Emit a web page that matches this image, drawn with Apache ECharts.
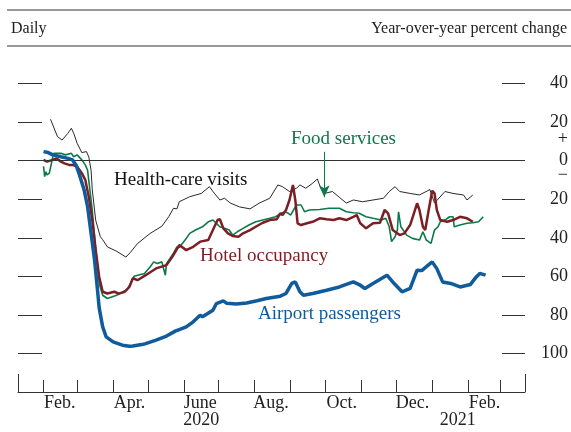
<!DOCTYPE html>
<html>
<head>
<meta charset="utf-8">
<script src="https://cdn.jsdelivr.net/npm/echarts@6/dist/echarts.min.js"></script>
<style>
  html, body { margin: 0; padding: 0; background: #fff; }
  #chart { width: 571px; height: 432px; }
</style>
</head>
<body>
<div id="chart"></div>
<script>
// values (percent change, year over year)
const healthCareVisits = [
  ['2020-02-07', 21.5], ['2020-02-13', 12.5], ['2020-02-17', 10.7], ['2020-02-22', 14.2],
  ['2020-02-25', 16.8], ['2020-02-27', 14.2], ['2020-03-01', 9], ['2020-03-05', 4.2],
  ['2020-03-09', 4.7], ['2020-03-11', 2], ['2020-03-13', -5], ['2020-03-14', -15],
  ['2020-03-17', -31], ['2020-03-21', -39.5], ['2020-03-23', -41], ['2020-03-27', -44.7],
  ['2020-04-04', -47], ['2020-04-12', -50], ['2020-04-16', -47.5], ['2020-04-22', -43],
  ['2020-05-03', -37.7], ['2020-05-13', -34], ['2020-05-19', -29], ['2020-05-23', -24.7],
  ['2020-05-26', -25], ['2020-05-28', -21.3], ['2020-06-06', -18.7], ['2020-06-16', -17],
  ['2020-06-23', -13.5], ['2020-06-26', -16], ['2020-07-02', -20.4], ['2020-07-06', -19.5],
  ['2020-07-11', -22], ['2020-07-19', -24], ['2020-07-28', -25], ['2020-08-05', -22],
  ['2020-08-14', -19.5], ['2020-08-21', -12.6], ['2020-08-25', -13.5], ['2020-08-31', -16],
  ['2020-09-06', -14.3], ['2020-09-09', -12.6], ['2020-09-14', -14.3], ['2020-09-20', -11.7],
  ['2020-09-24', -9.5], ['2020-09-27', -14.3], ['2020-09-30', -17], ['2020-10-07', -16],
  ['2020-10-13', -19], ['2020-10-19', -22], ['2020-10-25', -20.4], ['2020-11-02', -21.3],
  ['2020-11-11', -20.4], ['2020-11-20', -19.5], ['2020-11-25', -16], ['2020-11-30', -13.5],
  ['2020-12-04', -16], ['2020-12-13', -17], ['2020-12-21', -17.8], ['2020-12-30', -15],
  ['2021-01-03', -22], ['2021-01-12', -16], ['2021-01-19', -17], ['2021-01-28', -17.8],
  ['2021-01-31', -20.4], ['2021-02-05', -17.8]
];

const foodServices = [
  ['2020-02-01', -3], ['2020-02-02', -8.3], ['2020-02-03', -5.7], ['2020-02-04', -7.4],
  ['2020-02-06', -6.5], ['2020-02-09', 2], ['2020-02-10', 3.8], ['2020-02-16', 3.8],
  ['2020-02-20', 3], ['2020-02-25', 3.8], ['2020-02-27', 2], ['2020-03-01', 3],
  ['2020-03-05', 0.4], ['2020-03-08', -2.2], ['2020-03-10', -5], ['2020-03-14', -25.6],
  ['2020-03-17', -46], ['2020-03-20', -63.7], ['2020-03-23', -69.8], ['2020-03-27', -71.5],
  ['2020-04-04', -69.8], ['2020-04-13', -67], ['2020-04-16', -63.7], ['2020-04-19', -60],
  ['2020-04-28', -58.5], ['2020-05-03', -55], ['2020-05-06', -52.5], ['2020-05-09', -53.3],
  ['2020-05-13', -52.5], ['2020-05-16', -59.4], ['2020-05-17', -53.3], ['2020-05-20', -50.7],
  ['2020-05-23', -48], ['2020-05-26', -44.7], ['2020-05-28', -45], ['2020-06-02', -41.2],
  ['2020-06-06', -37.7], ['2020-06-11', -36], ['2020-06-17', -34.3], ['2020-06-22', -31.7],
  ['2020-06-26', -30.8], ['2020-07-02', -34.3], ['2020-07-06', -35.1], ['2020-07-10', -36],
  ['2020-07-13', -38.6], ['2020-07-17', -36.9], ['2020-07-22', -35.1], ['2020-07-27', -33.4],
  ['2020-08-02', -31.7], ['2020-08-08', -30.8], ['2020-08-14', -29.9], ['2020-08-19', -29.1],
  ['2020-08-24', -27.3], ['2020-08-27', -26.5], ['2020-08-30', -27.3], ['2020-09-01', -28.2],
  ['2020-09-06', -23], ['2020-09-10', -23], ['2020-09-13', -26.5], ['2020-09-17', -25.6],
  ['2020-09-26', -25.3], ['2020-10-04', -24.7], ['2020-10-13', -24.7], ['2020-10-19', -26.5],
  ['2020-10-25', -27], ['2020-10-30', -27.3], ['2020-11-05', -29.1], ['2020-11-11', -29.9],
  ['2020-11-18', -30.8], ['2020-11-22', -29.9], ['2020-11-25', -34.3], ['2020-11-27', -42],
  ['2020-11-30', -39.5], ['2020-12-02', -36], ['2020-12-03', -26.5], ['2020-12-05', -34.3],
  ['2020-12-10', -38.6], ['2020-12-15', -40.3], ['2020-12-21', -41.2], ['2020-12-24', -36.9],
  ['2020-12-27', -41.2], ['2020-12-31', -42.9], ['2021-01-03', -36], ['2021-01-06', -34.3],
  ['2021-01-08', -31.7], ['2021-01-12', -30.8], ['2021-01-16', -29.1], ['2021-01-19', -29.1],
  ['2021-01-20', -34.3], ['2021-01-25', -33.4], ['2021-01-31', -32.5], ['2021-02-05', -32.2],
  ['2021-02-10', -31.7], ['2021-02-14', -29.1]
];

const hotelOccupancy = [
  ['2020-02-01', 0.4], ['2020-02-04', -0.5], ['2020-02-09', 0.4], ['2020-02-12', 1.2],
  ['2020-02-16', -0.5], ['2020-02-19', -1.4], ['2020-02-23', -2.2], ['2020-02-26', -2.2],
  ['2020-03-01', -3.1], ['2020-03-05', -6.5], ['2020-03-08', -10], ['2020-03-11', -18.7],
  ['2020-03-14', -30.8], ['2020-03-17', -46.4], ['2020-03-20', -60.3], ['2020-03-23', -68],
  ['2020-03-27', -68.9], ['2020-04-02', -68], ['2020-04-06', -69], ['2020-04-11', -68],
  ['2020-04-15', -65.5], ['2020-04-18', -61], ['2020-04-22', -62], ['2020-04-29', -59.4],
  ['2020-05-08', -55.9], ['2020-05-17', -54.2], ['2020-05-22', -49.9], ['2020-05-28', -43.8],
  ['2020-06-03', -46.4], ['2020-06-09', -44.7], ['2020-06-15', -42], ['2020-06-22', -41.2],
  ['2020-06-26', -36], ['2020-06-30', -30.8], ['2020-07-02', -30.4], ['2020-07-05', -35.1],
  ['2020-07-09', -37.7], ['2020-07-13', -39.1], ['2020-07-18', -39.5], ['2020-07-22', -37.7],
  ['2020-07-28', -36], ['2020-08-03', -33.9], ['2020-08-08', -32.2], ['2020-08-14', -30.8],
  ['2020-08-20', -30.4], ['2020-08-23', -27.3], ['2020-08-25', -28.2], ['2020-08-28', -25.6],
  ['2020-08-31', -20.4], ['2020-09-03', -12.6], ['2020-09-05', -20.4], ['2020-09-07', -32.5],
  ['2020-09-10', -33.4], ['2020-09-15', -32.5], ['2020-09-20', -31.7], ['2020-09-26', -29.9],
  ['2020-10-02', -30.4], ['2020-10-08', -30.8], ['2020-10-13', -29.9], ['2020-10-19', -30.8],
  ['2020-10-25', -29.1], ['2020-10-28', -28.2], ['2020-10-31', -32.5], ['2020-11-05', -35.1],
  ['2020-11-11', -32.5], ['2020-11-17', -32.2], ['2020-11-21', -25.6], ['2020-11-24', -27.3],
  ['2020-11-28', -36], ['2020-12-04', -38.6], ['2020-12-08', -37.7], ['2020-12-13', -33.4],
  ['2020-12-19', -22.1], ['2020-12-21', -25.6], ['2020-12-24', -34.3], ['2020-12-26', -36],
  ['2020-12-29', -25.6], ['2021-01-01', -15.6], ['2021-01-03', -17], ['2021-01-05', -25.6],
  ['2021-01-08', -30.8], ['2021-01-14', -31.7], ['2021-01-19', -30.8], ['2021-01-25', -29.1],
  ['2021-01-31', -29.9], ['2021-02-05', -31.7]
];

const airportPassengers = [
  ['2020-02-01', 4.7], ['2020-02-05', 4.2], ['2020-02-09', 3], ['2020-02-16', 2],
  ['2020-02-22', 1.2], ['2020-02-26', 0.4], ['2020-02-29', -2.2], ['2020-03-03', -7.4],
  ['2020-03-07', -15.2], ['2020-03-10', -23.9], ['2020-03-13', -37.7], ['2020-03-16', -51.6],
  ['2020-03-18', -63.7], ['2020-03-20', -76.5], ['2020-03-23', -86.2], ['2020-03-26', -91.4],
  ['2020-04-01', -94], ['2020-04-09', -95.7], ['2020-04-15', -96.3], ['2020-04-18', -96.1],
  ['2020-04-27', -95.2], ['2020-04-29', -94.9], ['2020-05-08', -93.1], ['2020-05-17', -91],
  ['2020-05-25', -88.3], ['2020-05-28', -87.6], ['2020-06-03', -86.2], ['2020-06-09', -83.6],
  ['2020-06-15', -80.2], ['2020-06-17', -81], ['2020-06-26', -77.6], ['2020-06-29', -74.1],
  ['2020-07-05', -72.7], ['2020-07-08', -74], ['2020-07-16', -74.4], ['2020-07-25', -73.8],
  ['2020-08-03', -72.7], ['2020-08-11', -71.5], ['2020-08-23', -70.3], ['2020-08-28', -68.9],
  ['2020-09-02', -63.7], ['2020-09-05', -62.9], ['2020-09-09', -68], ['2020-09-12', -69.8],
  ['2020-09-20', -68.9], ['2020-10-02', -67.2], ['2020-10-13', -65.5], ['2020-10-25', -62.9],
  ['2020-10-31', -64.6], ['2020-11-04', -66.3], ['2020-11-11', -63.7], ['2020-11-23', -59.4],
  ['2020-11-28', -62.9], ['2020-12-06', -68], ['2020-12-13', -66.3], ['2020-12-19', -56.8],
  ['2020-12-23', -57], ['2020-12-27', -55], ['2021-01-01', -52.5], ['2021-01-05', -56],
  ['2021-01-10', -62.9], ['2021-01-17', -63.7], ['2021-01-25', -65.5], ['2021-02-03', -64.2],
  ['2021-02-08', -60.3], ['2021-02-11', -58.5], ['2021-02-16', -59.4]
];

// axis layout values
const axisStart = '2020-01-10';
const axisEnd = '2021-03-22';
const monthTicks = [
  '2020-02-01', '2020-03-01', '2020-04-01', '2020-05-01', '2020-06-01', '2020-07-01',
  '2020-08-01', '2020-09-01', '2020-10-01', '2020-11-01', '2020-12-01', '2021-01-01',
  '2021-02-01', '2021-03-01'
];
const monthLabels = [
  ['2020-02-15', 'Feb.'], ['2020-04-15', 'Apr.'], ['2020-06-15', 'June'], ['2020-08-15', 'Aug.'],
  ['2020-10-15', 'Oct.'], ['2020-12-15', 'Dec.'], ['2021-02-15', 'Feb.']
];
const yearLabels = [['2020-06-16', '2020'], ['2021-01-23', '2021']];
const yTicks = [-100, -80, -60, -40, -20, 0, 20, 40];
const signLabels = [[11, '+'], [-7.5, '\u2212']];

const chart = echarts.init(document.getElementById('chart'));
const t = s => +echarts.time.parse(s);
const toPoints = list => list.map(([d, v]) => [t(d), v]);
const serif = "'Liberation Serif', 'Times New Roman', serif";
const axisColor = '#333';
const textColor = '#222';
const colors = { health: '#111111', food: '#0b7a4b', hotel: '#7b1f24', airport: '#0f5b9b' };

function lookup(list) {
  const map = {};
  list.forEach(([k, text]) => { map[k] = text; });
  return map;
}
const monthMap = lookup(monthLabels.map(([d, s]) => [t(d), s]));
const yearMap = lookup(yearLabels.map(([d, s]) => [t(d), s]));
const signMap = lookup(signLabels);

const baseX = {
  type: 'value',
  min: t(axisStart),
  max: t(axisEnd),
  position: 'bottom',
  splitLine: { show: false }
};

chart.setOption({
  animation: false,
  grid: { left: 18, right: 46, top: 45, bottom: 40 },
  xAxis: [
    Object.assign({}, baseX, {
      axisLine: { show: true, onZero: false, lineStyle: { color: axisColor, width: 1 } },
      axisTick: { show: true, inside: true, length: 12, customValues: monthTicks.map(t), lineStyle: { color: axisColor } },
      axisLabel: {
        customValues: monthLabels.map(m => t(m[0])),
        formatter: v => monthMap[v] || '',
        margin: 2, color: textColor, fontFamily: serif, fontSize: 18
      }
    }),
    Object.assign({}, baseX, {
      axisLine: { show: false, onZero: false },
      axisTick: { show: false },
      axisLabel: {
        customValues: yearLabels.map(m => t(m[0])),
        formatter: v => yearMap[v] || '',
        margin: 19, color: textColor, fontFamily: serif, fontSize: 18
      }
    }),
    Object.assign({}, baseX, {
      axisLine: { show: false, onZero: false },
      axisTick: { show: true, inside: true, length: 18, customValues: [t(axisStart), t(axisEnd)], lineStyle: { color: axisColor } },
      axisLabel: { show: false }
    })
  ],
  yAxis: [
    {
      type: 'value', min: -120, max: 60, position: 'left',
      axisLine: { show: false },
      axisTick: { show: true, inside: true, length: 24, customValues: yTicks.filter(v => v !== 0), lineStyle: { color: axisColor } },
      axisLabel: { show: false },
      splitLine: { show: false }
    },
    {
      type: 'value', min: -120, max: 60, position: 'right',
      axisLine: { show: false },
      axisTick: { show: true, inside: true, length: 23, customValues: yTicks, lineStyle: { color: axisColor } },
      axisLabel: {
        customValues: yTicks.concat(signLabels.map(s => s[0])),
        formatter: v => (signMap[v] !== undefined ? signMap[v] : String(Math.abs(v))),
        align: 'right', margin: 43, color: textColor, fontFamily: serif, fontSize: 18
      },
      splitLine: { show: false }
    }
  ],
  series: [
    {
      name: 'Health-care visits', type: 'line', data: toPoints(healthCareVisits), showSymbol: false,
      lineStyle: { color: colors.health, width: 0.9 }, z: 2,
      markLine: {
        silent: true, symbol: 'none', label: { show: false },
        lineStyle: { color: axisColor, width: 1, type: 'solid' },
        data: [{ yAxis: 0 }]
      }
    },
    {
      name: 'Food services', type: 'line', data: toPoints(foodServices), showSymbol: false,
      lineStyle: { color: colors.food, width: 1.6 }, z: 3,
      markLine: {
        silent: true, symbol: ['none', 'arrow'], symbolSize: [8, 12], label: { show: false },
        lineStyle: { color: colors.food, width: 1, type: 'solid' },
        data: [[{ coord: [t('2020-09-30'), 4.6] }, { coord: [t('2020-09-30'), -19] }]]
      }
    },
    {
      name: 'Hotel occupancy', type: 'line', data: toPoints(hotelOccupancy), showSymbol: false,
      lineStyle: { color: colors.hotel, width: 2.5 }, z: 4
    },
    {
      name: 'Airport passengers', type: 'line', data: toPoints(airportPassengers), showSymbol: false,
      lineStyle: { color: colors.airport, width: 3.5 }, z: 5
    }
  ],
  graphic: [
    { type: 'line', shape: { x1: 7, y1: 10, x2: 571, y2: 10 }, style: { stroke: '#777', lineWidth: 1.5 } },
    { type: 'line', shape: { x1: 7, y1: 46, x2: 571, y2: 46 }, style: { stroke: '#777', lineWidth: 1.5 } },
    { type: 'text', x: 11, y: 29, style: { text: 'Daily', font: '16px ' + serif, fill: textColor, verticalAlign: 'middle' } },
    { type: 'text', x: 567, y: 29, style: { text: 'Year-over-year percent change', font: '16px ' + serif, fill: textColor, align: 'right', verticalAlign: 'middle' } },
    { type: 'text', x: 114, y: 180, style: { text: 'Health-care visits', font: '19px ' + serif, fill: colors.health, verticalAlign: 'middle' } },
    { type: 'text', x: 291, y: 139, style: { text: 'Food services', font: '19px ' + serif, fill: colors.food, verticalAlign: 'middle' } },
    { type: 'text', x: 200, y: 256, style: { text: 'Hotel occupancy', font: '19px ' + serif, fill: colors.hotel, verticalAlign: 'middle' } },
    { type: 'text', x: 258, y: 314, style: { text: 'Airport passengers', font: '19px ' + serif, fill: colors.airport, verticalAlign: 'middle' } }
  ]
});
</script>
</body>
</html>
